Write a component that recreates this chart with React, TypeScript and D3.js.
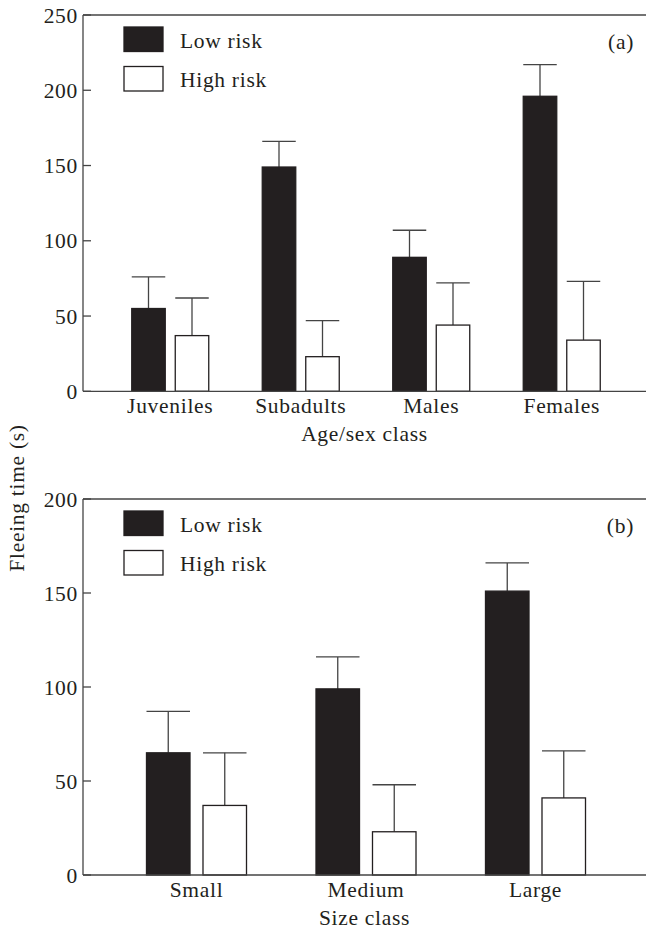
import React from "react";
import * as d3 from "d3";

const seriesNames = ["Low risk", "High risk"];

const ageCategories = ["Juveniles", "Subadults", "Males", "Females"];
const ageLowMean = [55, 149, 89, 196];
const ageLowErr = [21, 17, 18, 21];
const ageHighMean = [37, 23, 44, 34];
const ageHighErr = [25, 24, 28, 39];
const ageTicks = [0, 50, 100, 150, 200, 250];

const sizeCategories = ["Small", "Medium", "Large"];
const sizeLowMean = [65, 99, 151];
const sizeLowErr = [22, 17, 15];
const sizeHighMean = [37, 23, 41];
const sizeHighErr = [28, 25, 25];
const sizeTicks = [0, 50, 100, 150, 200];

const INK = "#231f20";
const AXIS = "#444";
const FONT = "'Liberation Serif', 'Times New Roman', serif";
const FS = 21.5;
const LS = 0.7;

type PanelProps = {
  categories: string[];
  low: number[];
  lowErr: number[];
  high: number[];
  highErr: number[];
  ticks: number[];
  yMax: number;
  top: number;
  bottom: number;
  bandRange: [number, number];
  label: string;
  xTitle: string;
};

const textProps = { fontFamily: FONT, fontSize: FS, fill: INK, letterSpacing: LS };

function Panel(p: PanelProps) {
  const left = 83;
  const right = 646;
  const y = d3.scaleLinear().domain([0, p.yMax]).range([p.bottom, p.top]);
  const x0 = d3.scaleBand<string>().domain(p.categories).range(p.bandRange).padding(0);
  const groupW = x0.step() * 0.59;
  const x1 = d3
    .scaleBand<string>()
    .domain(seriesNames)
    .range([-groupW / 2, groupW / 2])
    .paddingInner(0.23)
    .paddingOuter(0);
  const bw = x1.bandwidth();
  const series = [
    { name: seriesNames[0], mean: p.low, err: p.lowErr, fill: INK },
    { name: seriesNames[1], mean: p.high, err: p.highErr, fill: "#fff" },
  ];
  const legendX = 124;
  return (
    <g>
      {series.map((s) =>
        p.categories.map((c, i) => {
          const cx = x0(c)! + x0.bandwidth() / 2 + x1(s.name)!;
          const yTop = y(s.mean[i]);
          const yErr = y(s.mean[i] + s.err[i]);
          return (
            <g key={s.name + c}>
              <line x1={cx + bw / 2} x2={cx + bw / 2} y1={yTop} y2={yErr} stroke={AXIS} strokeWidth={1.3} />
              <line x1={cx} x2={cx + bw} y1={yErr} y2={yErr} stroke={AXIS} strokeWidth={1.3} />
              <rect
                x={cx}
                y={yTop}
                width={bw}
                height={y(0) - yTop}
                fill={s.fill}
                stroke={INK}
                strokeWidth={1.3}
              />
            </g>
          );
        })
      )}
      <line x1={left} x2={right} y1={p.top} y2={p.top} stroke={AXIS} strokeWidth={1.3} />
      <line x1={left} x2={right} y1={p.bottom} y2={p.bottom} stroke={AXIS} strokeWidth={1.3} />
      <line x1={left} x2={left} y1={p.top} y2={p.bottom} stroke={AXIS} strokeWidth={1.3} />
      {p.ticks.map((t) => (
        <g key={t} transform={`translate(0,${y(t)})`}>
          <line x1={left} x2={left + 8} stroke={AXIS} strokeWidth={1.3} />
          <text x={left - 5} dy="0.35em" textAnchor="end" {...textProps}>
            {t}
          </text>
        </g>
      ))}
      {p.categories.map((c) => (
        <text key={c} x={x0(c)! + x0.bandwidth() / 2} y={p.bottom + 22} textAnchor="middle" {...textProps}>
          {c}
        </text>
      ))}
      <text x={(left + right) / 2} y={p.bottom + 50} textAnchor="middle" {...textProps}>
        {p.xTitle}
      </text>
      <text x={634} y={p.top + 34} textAnchor="end" {...textProps}>
        {p.label}
      </text>
      {series.map((s, i) => (
        <g key={s.name} transform={`translate(${legendX},${p.top + 12 + i * 39.5})`}>
          <rect x={0} y={0} width={39} height={24.5} fill={s.fill} stroke={INK} strokeWidth={1.3} />
          <text x={56} y={20.5} {...textProps}>
            {s.name}
          </text>
        </g>
      ))}
    </g>
  );
}

export default function App() {
  return (
    <svg width={646} height={937} style={{ position: "absolute", left: 0, top: 0, background: "#fff" }}>
      <rect x={0} y={0} width={646} height={937} fill="#fff" />
      <Panel
        categories={ageCategories}
        low={ageLowMean}
        lowErr={ageLowErr}
        high={ageHighMean}
        highErr={ageHighErr}
        ticks={ageTicks}
        yMax={250}
        top={15}
        bottom={391.3}
        bandRange={[105, 627]}
        label="(a)"
        xTitle="Age/sex class"
      />
      <Panel
        categories={sizeCategories}
        low={sizeLowMean}
        lowErr={sizeLowErr}
        high={sizeHighMean}
        highErr={sizeHighErr}
        ticks={sizeTicks}
        yMax={200}
        top={499}
        bottom={875}
        bandRange={[111.75, 620.25]}
        label="(b)"
        xTitle="Size class"
      />
      <text transform="translate(24,498) rotate(-90)" textAnchor="middle" {...textProps}>
        Fleeing time (s)
      </text>
    </svg>
  );
}
